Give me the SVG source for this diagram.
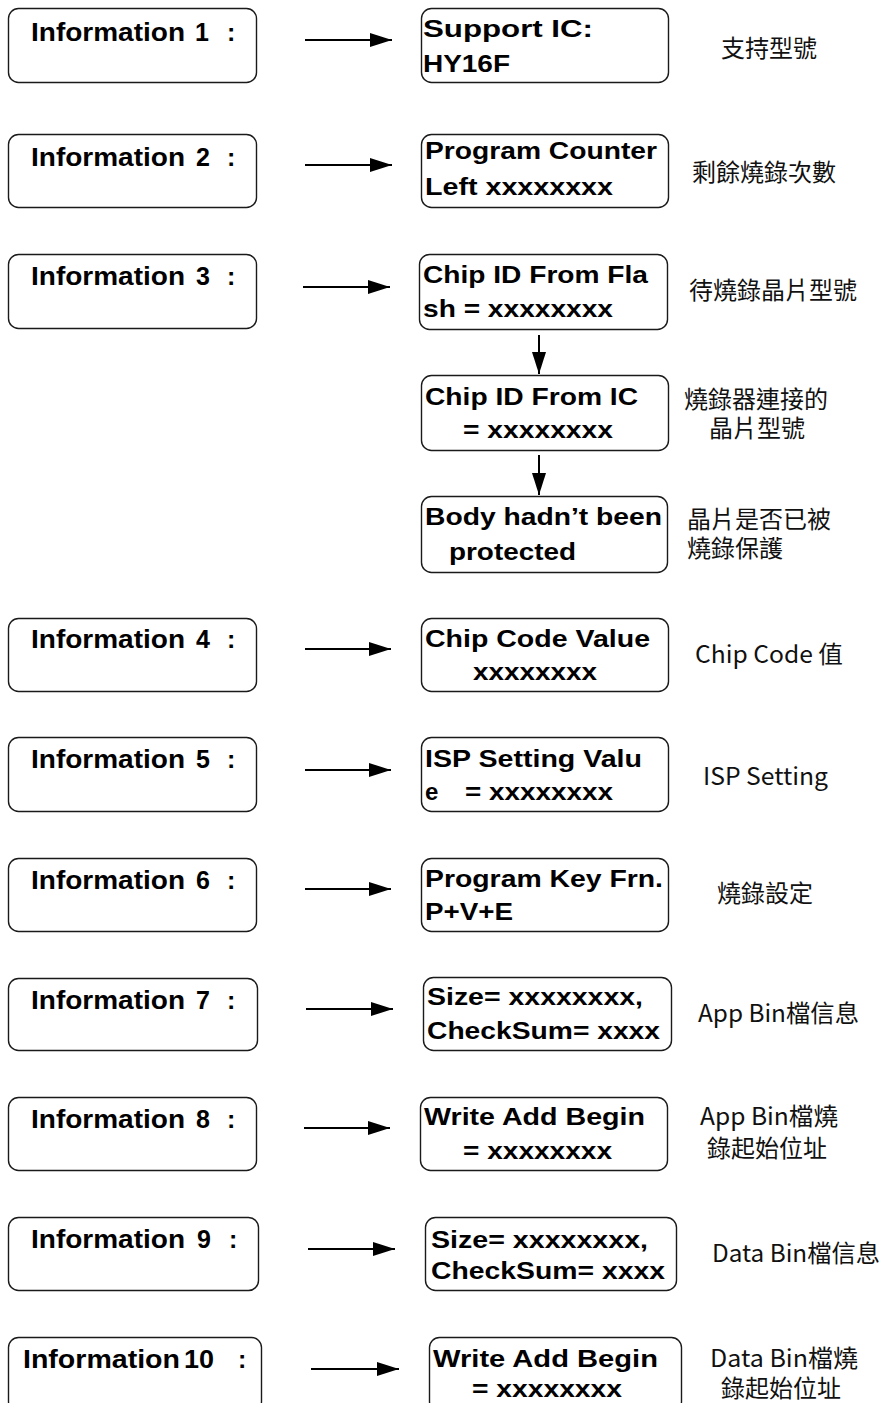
<svg xmlns="http://www.w3.org/2000/svg" width="882" height="1403" viewBox="0 0 882 1403">
<style>
.box{fill:#fff;stroke:#1a1a1a;stroke-width:1.4}
.lb{font-family:"Liberation Sans",Arial,sans-serif;font-weight:bold;font-size:25px;fill:#000}
.b{font-family:"Liberation Sans",Arial,sans-serif;font-weight:bold;font-size:24px;fill:#000}
.n{font-family:"Noto Sans CJK TC","Noto Sans CJK SC",sans-serif;font-size:24px;fill:#111}
.ln{stroke:#000;stroke-width:2;fill:none;marker-end:url(#ah)}
</style>
<defs>
<marker id="ah" markerUnits="userSpaceOnUse" markerWidth="22" markerHeight="14" refX="22" refY="7" orient="auto">
<path d="M0,0 L22,7 L0,14 z" fill="#000"/>
</marker>
</defs>
<rect width="882" height="1403" fill="#fff"/>

<g id="connectors">
<line class="ln" x1="305" y1="40" x2="392" y2="40"/>
<line class="ln" x1="305" y1="165" x2="392" y2="165"/>
<line class="ln" x1="303" y1="287" x2="390" y2="287"/>
<line class="ln" x1="539" y1="335" x2="539" y2="374"/>
<line class="ln" x1="539" y1="455" x2="539" y2="495"/>
<line class="ln" x1="305" y1="649" x2="391" y2="649"/>
<line class="ln" x1="305" y1="770" x2="391" y2="770"/>
<line class="ln" x1="305" y1="889" x2="391" y2="889"/>
<line class="ln" x1="306" y1="1009" x2="393" y2="1009"/>
<line class="ln" x1="304" y1="1128" x2="390" y2="1128"/>
<line class="ln" x1="308" y1="1249" x2="395" y2="1249"/>
<line class="ln" x1="311" y1="1369" x2="399" y2="1369"/>
</g>

<g id="info1"><rect class="box" x="8.5" y="8.5" width="248" height="74" rx="10"/>
<text class="lb" y="41"><tspan x="31" textLength="154" lengthAdjust="spacingAndGlyphs">Information</tspan><tspan x="195">1</tspan><tspan x="227">:</tspan></text></g>
<g id="info2"><rect class="box" x="8.5" y="134.5" width="248" height="73" rx="10"/>
<text class="lb" y="166"><tspan x="31" textLength="154" lengthAdjust="spacingAndGlyphs">Information</tspan><tspan x="196">2</tspan><tspan x="227">:</tspan></text></g>
<g id="info3"><rect class="box" x="8.5" y="254.5" width="248" height="74" rx="10"/>
<text class="lb" y="285"><tspan x="31" textLength="154" lengthAdjust="spacingAndGlyphs">Information</tspan><tspan x="196">3</tspan><tspan x="227">:</tspan></text></g>
<g id="info4"><rect class="box" x="8.5" y="618.5" width="248" height="73" rx="10"/>
<text class="lb" y="648"><tspan x="31" textLength="154" lengthAdjust="spacingAndGlyphs">Information</tspan><tspan x="196">4</tspan><tspan x="227">:</tspan></text></g>
<g id="info5"><rect class="box" x="8.5" y="737.5" width="248" height="74" rx="10"/>
<text class="lb" y="768"><tspan x="31" textLength="154" lengthAdjust="spacingAndGlyphs">Information</tspan><tspan x="196">5</tspan><tspan x="227">:</tspan></text></g>
<g id="info6"><rect class="box" x="8.5" y="858.5" width="248" height="73" rx="10"/>
<text class="lb" y="889"><tspan x="31" textLength="154" lengthAdjust="spacingAndGlyphs">Information</tspan><tspan x="196">6</tspan><tspan x="227">:</tspan></text></g>
<g id="info7"><rect class="box" x="8.5" y="978.5" width="249" height="72" rx="10"/>
<text class="lb" y="1009"><tspan x="31" textLength="154" lengthAdjust="spacingAndGlyphs">Information</tspan><tspan x="196">7</tspan><tspan x="227">:</tspan></text></g>
<g id="info8"><rect class="box" x="8.5" y="1097.5" width="248" height="73" rx="10"/>
<text class="lb" y="1128"><tspan x="31" textLength="154" lengthAdjust="spacingAndGlyphs">Information</tspan><tspan x="196">8</tspan><tspan x="227">:</tspan></text></g>
<g id="info9"><rect class="box" x="8.5" y="1217.5" width="250" height="73" rx="10"/>
<text class="lb" y="1248"><tspan x="31" textLength="154" lengthAdjust="spacingAndGlyphs">Information</tspan><tspan x="197">9</tspan><tspan x="229">:</tspan></text></g>
<g id="info10"><rect class="box" x="8.5" y="1337.5" width="253" height="74" rx="10"/>
<text class="lb" y="1368"><tspan x="23" textLength="157" lengthAdjust="spacingAndGlyphs">Information</tspan><tspan x="184" textLength="30" lengthAdjust="spacingAndGlyphs">10</tspan><tspan x="238">:</tspan></text></g>

<g id="r1"><rect class="box" x="421.5" y="8.5" width="247" height="74" rx="10"/>
<text class="b" x="423" y="37" textLength="170" lengthAdjust="spacingAndGlyphs">Support IC:</text>
<text class="b" x="423" y="72" textLength="87" lengthAdjust="spacingAndGlyphs">HY16F</text></g>
<g id="r2"><rect class="box" x="421.5" y="134.5" width="247" height="73" rx="10"/>
<text class="b" x="425" y="159" textLength="232" lengthAdjust="spacingAndGlyphs">Program Counter</text>
<text class="b" x="425" y="195" textLength="188" lengthAdjust="spacingAndGlyphs">Left xxxxxxxx</text></g>
<g id="r3a"><rect class="box" x="419.5" y="254.5" width="248" height="75" rx="10"/>
<text class="b" x="423" y="283" textLength="225" lengthAdjust="spacingAndGlyphs">Chip ID From Fla</text>
<text class="b" x="423" y="317" textLength="190" lengthAdjust="spacingAndGlyphs">sh = xxxxxxxx</text></g>
<g id="r3b"><rect class="box" x="421.5" y="375.5" width="247" height="75" rx="10"/>
<text class="b" x="425" y="405" textLength="213" lengthAdjust="spacingAndGlyphs">Chip ID From IC</text>
<text class="b" x="463" y="438" textLength="150" lengthAdjust="spacingAndGlyphs">= xxxxxxxx</text></g>
<g id="r3c"><rect class="box" x="421.5" y="496.5" width="246" height="76" rx="10"/>
<text class="b" x="425" y="525" textLength="237" lengthAdjust="spacingAndGlyphs">Body hadn’t been</text>
<text class="b" x="449" y="560" textLength="127" lengthAdjust="spacingAndGlyphs">protected</text></g>
<g id="r4"><rect class="box" x="421.5" y="618.5" width="247" height="73" rx="10"/>
<text class="b" x="425" y="647" textLength="225" lengthAdjust="spacingAndGlyphs">Chip Code Value</text>
<text class="b" x="473" y="680" textLength="124" lengthAdjust="spacingAndGlyphs">xxxxxxxx</text></g>
<g id="r5"><rect class="box" x="421.5" y="737.5" width="247" height="74" rx="10"/>
<text class="b" x="425" y="767" textLength="217" lengthAdjust="spacingAndGlyphs">ISP Setting Valu</text>
<text class="b" y="800"><tspan x="425">e</tspan><tspan x="465" textLength="148" lengthAdjust="spacingAndGlyphs">= xxxxxxxx</tspan></text></g>
<g id="r6"><rect class="box" x="421.5" y="858.5" width="247" height="73" rx="10"/>
<text class="b" x="425" y="887" textLength="238" lengthAdjust="spacingAndGlyphs">Program Key Frn.</text>
<text class="b" x="425" y="920" textLength="88" lengthAdjust="spacingAndGlyphs">P+V+E</text></g>
<g id="r7"><rect class="box" x="423.5" y="977.5" width="248" height="73" rx="10"/>
<text class="b" x="427" y="1005" textLength="216" lengthAdjust="spacingAndGlyphs">Size= xxxxxxxx,</text>
<text class="b" x="427" y="1039" textLength="233" lengthAdjust="spacingAndGlyphs">CheckSum= xxxx</text></g>
<g id="r8"><rect class="box" x="420.5" y="1097.5" width="247" height="73" rx="10"/>
<text class="b" x="424" y="1125" textLength="221" lengthAdjust="spacingAndGlyphs">Write Add Begin</text>
<text class="b" x="463" y="1159" textLength="149" lengthAdjust="spacingAndGlyphs">= xxxxxxxx</text></g>
<g id="r9"><rect class="box" x="425.5" y="1217.5" width="251" height="73" rx="10"/>
<text class="b" x="431" y="1248" textLength="217" lengthAdjust="spacingAndGlyphs">Size= xxxxxxxx,</text>
<text class="b" x="431" y="1279" textLength="234" lengthAdjust="spacingAndGlyphs">CheckSum= xxxx</text></g>
<g id="r10"><rect class="box" x="429.5" y="1337.5" width="252" height="74" rx="10"/>
<text class="b" x="433" y="1367" textLength="225" lengthAdjust="spacingAndGlyphs">Write Add Begin</text>
<text class="b" x="472" y="1397" textLength="150" lengthAdjust="spacingAndGlyphs">= xxxxxxxx</text></g>

<g id="notes">
<text class="n" x="721" y="57">支持型號</text>
<text class="n" x="692" y="181">剩餘燒錄次數</text>
<text class="n" x="689" y="299">待燒錄晶片型號</text>
<text class="n" x="684" y="408">燒錄器連接的</text>
<text class="n" x="709" y="437">晶片型號</text>
<text class="n" x="687" y="528">晶片是否已被</text>
<text class="n" x="687" y="557">燒錄保護</text>
<text class="n" x="695" y="663" textLength="148" lengthAdjust="spacingAndGlyphs">Chip Code 值</text>
<text class="n" x="703" y="785" textLength="125" lengthAdjust="spacingAndGlyphs">ISP Setting</text>
<text class="n" x="717" y="902">燒錄設定</text>
<text class="n" x="698" y="1022" textLength="161" lengthAdjust="spacingAndGlyphs">App Bin檔信息</text>
<text class="n" x="700" y="1125" textLength="138" lengthAdjust="spacingAndGlyphs">App Bin檔燒</text>
<text class="n" x="707" y="1157">錄起始位址</text>
<text class="n" x="712" y="1262" textLength="168" lengthAdjust="spacingAndGlyphs">Data Bin檔信息</text>
<text class="n" x="710" y="1367" textLength="148" lengthAdjust="spacingAndGlyphs">Data Bin檔燒</text>
<text class="n" x="721" y="1397">錄起始位址</text>
</g>
</svg>
